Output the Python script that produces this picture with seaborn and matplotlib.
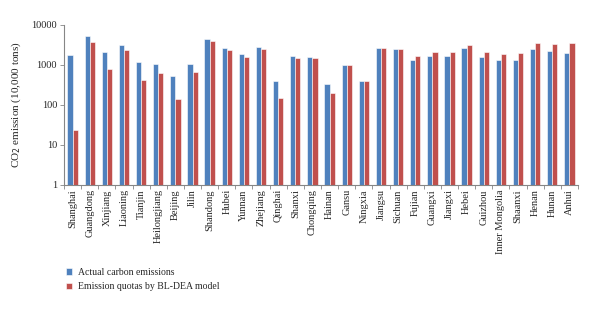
import numpy as np
import pandas as pd
import seaborn as sns
import matplotlib.pyplot as plt
from matplotlib.ticker import FixedLocator, FixedFormatter, NullLocator

provinces = ["Shanghai", "Guangdong", "Xinjiang", "Liaoning", "Tianjin", "Heilongjiang",
             "Beijing", "Jilin", "Shandong", "Hubei", "Yunnan", "Zhejiang", "Qinghai",
             "Shanxi", "Chongqing", "Hainan", "Gansu", "Ningxia", "Jiangsu", "Sichuan",
             "Fujian", "Guangxi", "Jiangxi", "Hebei", "Guizhou", "Inner Mongolia",
             "Shaanxi", "Henan", "Hunan", "Anhui"]
actual = [1780, 5300, 2080, 3160, 1170, 1040, 540, 1075, 4370, 2700, 1880, 2750, 406,
          1680, 1630, 335, 980, 398, 2610, 2510, 1360, 1720, 1720, 2660, 1550, 1360,
          1310, 2510, 2240, 1960]
quota = [23.7, 3810, 794, 2370, 414, 617, 138, 677, 3900, 2370, 1550, 2460, 152,
         1500, 1470, 200, 980, 406, 2610, 2550, 1650, 2080, 2150, 3160, 2080, 1920,
         2000, 3550, 3350, 3550]
series = ["Actual carbon emissions", "Emission quotas by BL-DEA model"]
yticks = [1, 10, 100, 1000, 10000]

df = pd.DataFrame({
    "Province": provinces * 2,
    "Emission": actual + quota,
    "Series": [series[0]] * len(provinces) + [series[1]] * len(provinces),
})

sns.set_style("white")
plt.rcParams["font.family"] = ["Liberation Serif", "DejaVu Serif"]
plt.rcParams["font.size"] = 7

fig = plt.figure(figsize=(6.0, 3.11), dpi=100)
ax = fig.add_axes([64 / 600, 1 - 185 / 311, (578 - 64) / 600, 160 / 311])
ax.set_yscale("log")

sns.barplot(data=df, x="Province", y="Emission", hue="Series", order=provinces,
            hue_order=series, palette=["#4F81BD", "#C0504D"], saturation=1,
            width=0.6, edgecolor="white", linewidth=0.4, ax=ax)

ax.set_ylim(1, 10000)
ax.set_xlim(-0.5, len(provinces) - 0.5)
ax.yaxis.set_major_locator(FixedLocator(yticks))
ax.yaxis.set_major_formatter(FixedFormatter([str(v) for v in yticks]))
ax.yaxis.set_minor_locator(NullLocator())
ax.tick_params(axis="y", which="major", length=3, width=0.6, color="#868686",
               left=True, labelsize=7.5, pad=2)
ax.set_xticks(range(len(provinces)))
ax.set_xticklabels(provinces, rotation=90, fontsize=7.5)
ax.set_xticks(np.arange(len(provinces) + 1) - 0.5, minor=True)
ax.tick_params(axis="x", which="major", length=0, pad=3)
ax.tick_params(axis="x", which="minor", length=3, width=0.6, color="#868686", bottom=True)
ax.set_xlabel("")
ax.set_ylabel("CO$_2$ emission (10,000 tons)", fontsize=8, labelpad=6)

for s in ["top", "right"]:
    ax.spines[s].set_visible(False)
for s in ["left", "bottom"]:
    ax.spines[s].set_color("#868686")
    ax.spines[s].set_linewidth(0.8)

handles, labels = ax.get_legend_handles_labels()
ax.get_legend().remove()
fig.legend(handles, labels, loc="upper left", bbox_to_anchor=(62 / 600, 1 - 264 / 311),
           frameon=False, fontsize=7, handlelength=0.6, handleheight=0.6,
           handletextpad=0.6, labelspacing=0.55, borderaxespad=0)

fig.savefig("out.png", dpi=100)
